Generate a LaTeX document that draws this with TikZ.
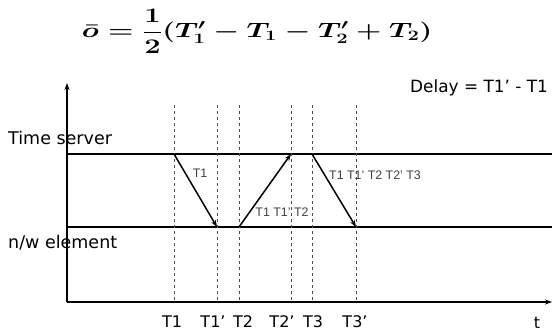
\documentclass[tikz,border=0pt]{standalone}
\usepackage{amsmath}
\usepackage{fontspec}
\setmainfont{DejaVu Sans}
\newfontfamily\smallfont{Liberation Sans}
\usetikzlibrary{arrows.meta,calc,positioning}
\tikzset{
  axis/.style={-{Stealth[length=7pt,width=5pt]},line width=1.5pt},
  lane/.style={line width=1.6pt},
  msg/.style={-{Stealth[length=7pt,width=5pt]},line width=1.5pt},
  guide/.style={dashed,gray!60!black,line width=0.6pt},
  big/.style={font=\fontsize{16}{16}\selectfont,inner sep=0pt},
  side/.style={font=\fontsize{17.5}{17.5}\selectfont,inner sep=0pt},
  note/.style={font=\smallfont\fontsize{12.4}{12.4}\selectfont,text=gray!50!black,inner sep=0pt},
  formula/.style={font=\fontsize{21}{21}\selectfont\boldmath,inner sep=0pt}
}

\begin{document}
\begin{tikzpicture}[x=1pt,y=-1pt]
\useasboundingbox (0,0) rectangle (552,332);
\node[formula] (eq) at (257,31) {\scalebox{1.4}[1]{$\displaystyle\bar{o}=\frac{1}{2}(T^{\prime}_1-T_1-T^{\prime}_2+T_2)$}};
% axes
\coordinate (o) at (67,302);
\coordinate (ytop) at (67,83);
\coordinate (xend) at (552,302);
\draw[axis] (o) -- (ytop);
\draw[axis] (o) -- (xend);
% the two lanes
\coordinate (s0) at (67,154);
\coordinate (s1) at (552,154);
\coordinate (n0) at (67,227);
\coordinate (n1) at (552,227);
\draw[lane] (s0) -- (s1);
\draw[lane] (n0) -- (n1);
% time marks
\foreach \m/\x in {a/174,b/217,c/239,d/291,e/312,f/356}{
  \coordinate (\m top) at (\x,105);
  \coordinate (\m s) at (\x,154);
  \coordinate (\m n) at (\x,227);
  \coordinate (\m bot) at (\x,302);
  \draw[guide] (\m top) -- (\m bot);
}
% messages
\draw[msg] (as) -- (bn);
\draw[msg] (cn) -- (ds);
\draw[msg] (es) -- (fn);
\node[note] (m1) at (200,173) {T1};
\node[note] (m2) at (282,212) {T1 T1’ T2};
\node[note] (m3) at (375,175) {T1 T1’ T2 T2’ T3};
% labels
\node[side,anchor=west] (srv) at (8,138) {Time server};
\node[side,anchor=west] (nw) at (8,243) {n/w element};
\node[big,anchor=west,font=\fontsize{16.9}{16.9}\selectfont] (delay) at (410,88) {Delay = T1’ - T1};
\node[big] (t1) at (172,322) {T1};
\node[big] (t1p) at (213,322) {T1’};
\node[big] (t2) at (243,322) {T2};
\node[big] (t2p) at (282,322) {T2’};
\node[big] (t3) at (313,322) {T3};
\node[big] (t3p) at (355,322) {T3’};
\node[big] (t) at (537,323) {t};
\end{tikzpicture}
\end{document}
